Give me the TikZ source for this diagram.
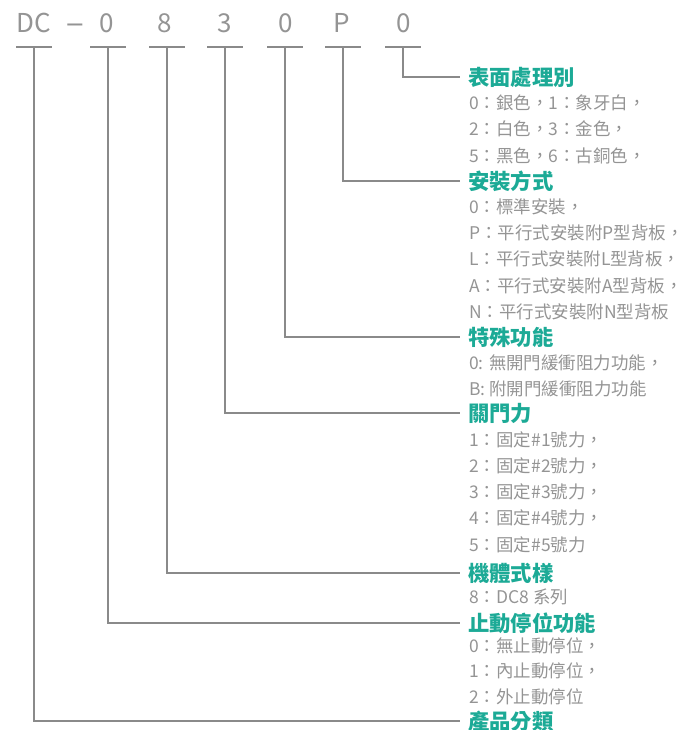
\documentclass[tikz,border=0pt]{standalone}
\usepackage{fontspec}
\setmainfont{Noto Sans CJK TC}
\newfontfamily\dashfont{DejaVu Sans}
\definecolor{tealtitle}{RGB}{28,170,150}
\definecolor{gline}{RGB}{138,138,138}
\definecolor{gtext}{RGB}{148,148,148}
\begin{document}
\begin{tikzpicture}[x=0.75pt,y=-0.75pt,
  title/.style={anchor=west,inner xsep=6pt,inner ysep=0pt,font=\fontsize{16}{16}\selectfont\bfseries,text=tealtitle},
  item/.style={anchor=west,inner sep=0pt,font=\fontsize{13.1}{13.1}\selectfont,text=gtext},
  code/.style={inner sep=0pt,anchor=base,font=\fontsize{19.5}{19.5}\selectfont,text=gtext},
  bar/.style={draw=gline,line width=1pt},
  conn/.style={draw=gline,line width=1pt}]
\useasboundingbox (0,0) rectangle (684,730);
% code letters (baseline at y=33)
\node[code] (cDC) at (34,33) {DC};
\node[code,font=\fontsize{18}{18}\dashfont] (cdash) at (75,33) {−};
\node[code] (c2) at (107,33) {0};
\node[code] (c3) at (165,33) {8};
\node[code] (c4) at (225,33) {3};
\node[code] (c5) at (286,33) {0};
\node[code] (c6) at (342,33) {P};
\node[code] (c7) at (404,33) {0};
% bar coordinates
\coordinate (k1) at (34,47);
\coordinate (k2) at (108,47);
\coordinate (k3) at (167,47);
\coordinate (k4) at (225,47);
\coordinate (k5) at (285,47);
\coordinate (k6) at (343,47);
\coordinate (k7) at (403,47);
\foreach \k in {k1,k2,k3,k4,k5,k6,k7}{
  \draw[bar] (\k) ++(-18,0) -- ++(36,0);
}
% titles
\node[title] (t7) at (460,77) {表面處理別};
\node[title] (t6) at (460,181) {安裝方式};
\node[title] (t5) at (460,337) {特殊功能};
\node[title] (t4) at (460,413) {關門力};
\node[title] (t3) at (460,573) {機體式樣};
\node[title] (t2) at (460,623) {止動停位功能};
\node[title] (t1) at (460,721) {產品分類};
% connectors
\draw[conn] (k7) |- (t7.west);
\draw[conn] (k6) |- (t6.west);
\draw[conn] (k5) |- (t5.west);
\draw[conn] (k4) |- (t4.west);
\draw[conn] (k3) |- (t3.west);
\draw[conn] (k2) |- (t2.west);
\draw[conn] (k1) |- (t1.west);
% items
\node[item] (i71) at (469,103) {0：銀色，1：象牙白，};
\node[item] (i72) at (469,129) {2：白色，3：金色，};
\node[item] (i73) at (469,156) {5：黑色，6：古銅色，};
\node[item] (i61) at (469,207) {0：標準安裝，};
\node[item] (i62) at (469,233) {P：平行式安裝附P型背板，};
\node[item] (i63) at (469,259) {L：平行式安裝附L型背板，};
\node[item] (i64) at (469,286) {A：平行式安裝附A型背板，};
\node[item] (i65) at (469,312) {N：平行式安裝附N型背板};
\node[item] (i51) at (469,363) {0: 無開門緩衝阻力功能，};
\node[item] (i52) at (469,389) {B: 附開門緩衝阻力功能};
\node[item] (i41) at (469,440) {1：固定\#1號力，};
\node[item] (i42) at (469,466) {2：固定\#2號力，};
\node[item] (i43) at (469,492) {3：固定\#3號力，};
\node[item] (i44) at (469,518) {4：固定\#4號力，};
\node[item] (i45) at (469,545) {5：固定\#5號力};
\node[item] (i31) at (469,597) {8：DC8 系列};
\node[item] (i21) at (469,646) {0：無止動停位，};
\node[item] (i22) at (469,671) {1：內止動停位，};
\node[item] (i23) at (469,697) {2：外止動停位};
\end{tikzpicture}
\end{document}
